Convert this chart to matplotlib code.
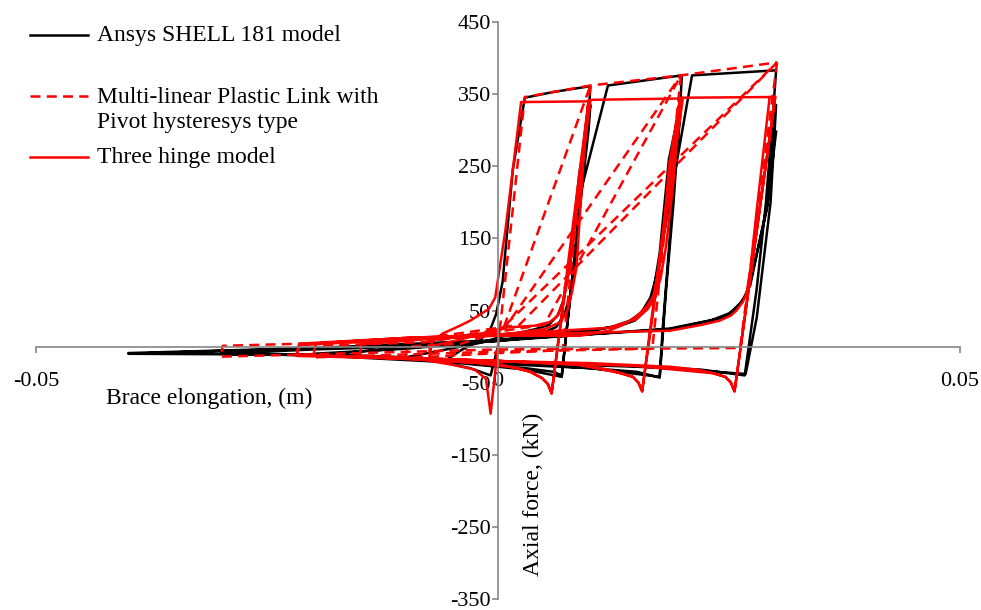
import matplotlib
matplotlib.use("Agg")
import matplotlib.pyplot as plt
from matplotlib.lines import Line2D

plt.rcParams["font.family"] = ["Liberation Serif", "DejaVu Serif"]
plt.rcParams["axes.unicode_minus"] = False

# Ansys SHELL 181 model: brace elongation (m) / axial force (kN), one continuous path
ansys_disp = [
    0.0000, -0.0008, -0.0030, -0.0060,
    -0.0040, -0.0020, -0.0008, -0.0002, 0.0005, 0.0016, 0.0029, 0.0060, 0.0100,
    0.0098, 0.0085, 0.0075, 0.0069, 0.0060, 0.0030, 0.0000, -0.0040, -0.0100,
    -0.0060, -0.0020, 0.0005, 0.0040, 0.0055, 0.0065, 0.0071, 0.0078, 0.0088, 0.0100,
    0.0098, 0.0085, 0.0074, 0.0069, 0.0030, 0.0000, -0.0050, -0.0200,
    -0.0120, -0.0040, 0.0020, 0.0050, 0.0063, 0.0072, 0.0078, 0.0083, 0.0089, 0.0119, 0.0199,
    0.0197, 0.0190, 0.0182, 0.0175, 0.0150, 0.0100, 0.0050, 0.0000, -0.0100, -0.0200,
    -0.0100, 0.0000, 0.0080, 0.0130, 0.0148, 0.0160, 0.0168, 0.0175, 0.0185, 0.0199,
    0.0190, 0.0178, 0.0175, 0.0100, 0.0000, -0.0200, -0.0300,
    -0.0200, -0.0100, 0.0000, 0.0089, 0.0125, 0.0143, 0.0155, 0.0165, 0.0173, 0.0179, 0.0210, 0.0301,
    0.0298, 0.0290, 0.0280, 0.0267, 0.0220, 0.0150, 0.0080, 0.0000, -0.0100, -0.0250, -0.0400,
    -0.0300, -0.0200, -0.0100, 0.0000, 0.0186, 0.0240, 0.0252, 0.0262, 0.0268, 0.0273, 0.0291, 0.0301,
    0.0295, 0.0280, 0.0268, 0.0150, 0.0000, -0.0200, -0.0400,
    -0.0200, 0.0000, 0.0186, 0.0230, 0.0250, 0.0263, 0.0273, 0.0292, 0.0301,
]
ansys_force = [
    0, -40, -30, -22,
    -5, 8, 25, 45, 90, 245, 345, 353, 361,
    320, 150, 30, -40, -35, -30, -27, -22, -15,
    -5, 5, 14, 24, 30, 44, 65, 115, 240, 335,
    300, 150, 20, -42, -32, -28, -22, -12,
    -4, 4, 12, 20, 27, 45, 70, 110, 212, 362, 376,
    330, 200, 80, -43, -35, -30, -27, -24, -15, -10,
    -3, 8, 20, 28, 36, 52, 75, 130, 260, 345,
    220, 20, -42, -30, -22, -12, -10,
    -4, 0, 8, 18, 28, 36, 47, 68, 105, 151, 376, 383,
    330, 200, 80, -40, -32, -28, -25, -22, -15, -11, -10,
    -6, -3, 1, 8, 25, 39, 46, 60, 70, 90, 190, 335,
    200, 40, -38, -27, -20, -11, -9,
    -2, 9, 24, 36, 46, 60, 85, 200, 298,
]

# Multi-linear plastic link with Pivot hysteresis, drawn as separate branches
pivot_backbone_disp = [0.0000, 0.0029, 0.0100, 0.0198, 0.0302]
pivot_backbone_force = [0, 346, 362, 376, 394]

pivot_loop1_disp = [0.0100, 0.0070, 0.0000, -0.0100, -0.0098, -0.0040, 0.0005, 0.0100]
pivot_loop1_force = [362, -5, -9, -16, 0, 4, 22, 362]

pivot_loop2_disp = [0.0198, 0.0167, 0.0000, -0.0200, -0.0198, -0.0080, 0.0007, 0.0198]
pivot_loop2_force = [376, -3, -7, -15, 1, 6, 25, 376]
pivot_loop2b_disp = [-0.0080, 0.0050, 0.0198]
pivot_loop2b_force = [6, 30, 376]

pivot_loop3_disp = [0.0302, 0.0262, 0.0000, -0.0300, -0.0298, -0.0100, 0.0000, 0.0302]
pivot_loop3_force = [394, -2, -4, -14, 1, 8, 20, 394]
pivot_loop3b_disp = [-0.0100, 0.0023, 0.0302]
pivot_loop3b_force = [8, 30, 394]

# Three hinge model
hinge_disp = [
    0.0000, -0.0008, -0.0013, -0.0025, -0.0050, -0.0074,
    -0.0072, -0.0060, -0.0041, -0.0030, -0.0010, -0.0003, 0.0008, 0.0025, 0.0100,
    0.0058, 0.0054, 0.0048, 0.0035, 0.0018, -0.0022, -0.0074,
    -0.0074, -0.0040, 0.0005, 0.0040, 0.0056, 0.0064, 0.0070, 0.0075, 0.0081, 0.0090, 0.0098,
    0.0058, 0.0054, 0.0048, 0.0035, 0.0000, -0.0150,
    -0.0148, -0.0080, 0.0000, 0.0050, 0.0068, 0.0075, 0.0080, 0.0085, 0.0092, 0.0098, 0.0200,
    0.0156, 0.0152, 0.0146, 0.0133, 0.0116, 0.0086, 0.0000, -0.0150, -0.0218,
    -0.0215, -0.0100, 0.0000, 0.0089, 0.0120, 0.0135, 0.0150, 0.0161, 0.0168, 0.0172, 0.0179, 0.0185, 0.0197,
    0.0156, 0.0152, 0.0146, 0.0133, 0.0086, 0.0000, -0.0218,
    -0.0215, -0.0100, 0.0000, 0.0120, 0.0150, 0.0162, 0.0170, 0.0176, 0.0182, 0.0190, 0.0197, 0.0300,
    0.0256, 0.0252, 0.0246, 0.0233, 0.0216, 0.0186, 0.0100, 0.0000, -0.0218,
    -0.0215, -0.0100, 0.0000, 0.0186, 0.0220, 0.0240, 0.0252, 0.0258, 0.0265, 0.0269, 0.0273, 0.0280, 0.0294, 0.0300,
    0.0256, 0.0252, 0.0246, 0.0233, 0.0150, 0.0000, -0.0150,
]
hinge_force = [
    0, -93, -45, -32, -25, -20,
    5, 18, 29, 36, 52, 68, 161, 339, 340,
    -65, -52, -44, -35, -29, -23, -18,
    0, 10, 26, 29, 34, 42, 60, 92, 138, 250, 340,
    -65, -52, -44, -35, -24, -14,
    3, 10, 16, 24, 34, 50, 75, 110, 250, 342, 344,
    -62, -50, -42, -37, -31, -25, -20, -14, -11,
    2, 10, 15, 15, 22, 30, 42, 56, 70, 92, 151, 250, 344,
    -62, -50, -42, -37, -25, -20, -12,
    3, 12, 17, 26, 38, 52, 68, 95, 140, 230, 345, 346,
    -62, -50, -42, -37, -32, -28, -23, -20, -13,
    4, 12, 16, 22, 30, 36, 43, 50, 62, 74, 106, 189, 346, 346,
    -62, -50, -42, -37, -27, -20, -13,
]

y_ticks = [-350, -250, -150, -50, 50, 150, 250, 350, 450]
x_ticks = [-0.05, 0, 0.05]
x_tick_labels = ["-0.05", "0", "0.05"]

legend_labels = [
    "Ansys SHELL 181 model",
    "Multi-linear Plastic Link with\nPivot hysteresys type",
    "Three hinge model",
]

RED = "#ff0000"
AXIS_GREY = "#868686"
LW = 1.8
DASH = (4, 2.5)

fig = plt.figure(figsize=(9.81, 6.10), dpi=100)
ax = fig.add_axes([36 / 981, 11 / 610, 924 / 981, 577 / 610])

ax.plot(ansys_disp, ansys_force, color="black", lw=LW, solid_joinstyle="round")

pivot_branches = [
    (pivot_backbone_disp, pivot_backbone_force),
    (pivot_loop1_disp, pivot_loop1_force),
    (pivot_loop2_disp, pivot_loop2_force),
    (pivot_loop2b_disp, pivot_loop2b_force),
    (pivot_loop3_disp, pivot_loop3_force),
    (pivot_loop3b_disp, pivot_loop3b_force),
]
for xs, ys in pivot_branches:
    ax.plot(xs, ys, color=RED, lw=LW, dashes=DASH)

ax.plot(hinge_disp, hinge_force, color=RED, lw=LW, solid_joinstyle="round")

ax.set_xlim(-0.05, 0.05)
ax.set_ylim(-350, 450)
ax.spines["left"].set_position(("data", 0))
ax.spines["bottom"].set_position(("data", 0))
ax.spines["top"].set_visible(False)
ax.spines["right"].set_visible(False)
for side in ("left", "bottom"):
    ax.spines[side].set_color(AXIS_GREY)
    ax.spines[side].set_linewidth(1.2)

ax.set_yticks(y_ticks)
ax.set_xticks(x_ticks)
ax.set_xticklabels(x_tick_labels)
ax.tick_params(axis="y", direction="out", length=4, width=1.2, color=AXIS_GREY,
               labelsize=16, pad=1)
ax.tick_params(axis="x", direction="out", length=4, width=1.2, color=AXIS_GREY,
               labelsize=16, pad=14)
ax.patch.set_alpha(0)

fig.text(106 / 981, 1 - 398 / 610, "Brace elongation, (m)", fontsize=17,
         ha="left", va="center")
fig.text(533 / 981, 1 - 494 / 610, "Axial force, (kN)", fontsize=17,
         rotation=90, ha="center", va="center")

# legend drawn by hand to reproduce the uneven spacing of the original
legend_rows = [(35, "black", "-"), (96, RED, "--"), (157, RED, "-")]
legend_text_y = [35, 110, 157]
for (py, colour, style), ty, label in zip(legend_rows, legend_text_y, legend_labels):
    line = Line2D([30 / 981, 88 / 981], [1 - py / 610, 1 - py / 610], color=colour,
                  lw=LW, transform=fig.transFigure)
    if style == "--":
        line.set_dashes(DASH)
    fig.add_artist(line)
    fig.text(97 / 981, 1 - ty / 610, label, fontsize=17, ha="left", va="center",
             linespacing=1.3)

fig.savefig("out.png", dpi=100)
